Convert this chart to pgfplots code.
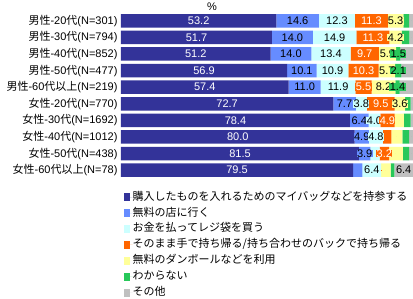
\documentclass[border=0pt]{standalone}
\usepackage{fontspec}
\setmainfont{Liberation Sans}
\newfontfamily\cjk{Noto Sans CJK JP}
\usepackage{pgfplots}
\pgfplotsset{compat=1.18}
\usepackage{pgfplotstable}

\definecolor{cA}{RGB}{51,51,153}
\definecolor{cB}{RGB}{102,140,255}
\definecolor{cC}{RGB}{204,255,255}
\definecolor{cD}{RGB}{255,102,0}
\definecolor{cE}{RGB}{255,255,153}
\definecolor{cF}{RGB}{40,200,90}
\definecolor{cG}{RGB}{192,192,192}

\pgfplotstableread{
row a b c d e f g la lb lc ld le lf lg
0 53.2 14.6 12.3 11.3 5.3 2.0 1.3 53.2 14.6 12.3 11.3 5.3 {} {}
1 51.7 14.0 14.9 11.3 4.2 2.7 1.2 51.7 14.0 14.9 11.3 4.2 {} {}
2 51.2 14.0 13.4 9.7 5.9 1.5 4.3 51.2 14.0 13.4 9.7 5.9 1.5 {}
3 56.9 10.1 10.9 10.3 5.7 2.1 4.0 56.9 10.1 10.9 10.3 5.7 2.1 {}
4 57.4 11.0 11.9 5.5 8.2 1.4 4.6 57.4 11.0 11.9 5.5 8.2 1.4 {}
5 72.7 7.7 3.8 9.5 3.6 1.9 0.8 72.7 7.7 3.8 9.5 3.6 {} {}
6 78.4 6.4 4.0 4.9 3.2 2.3 0.8 78.4 6.4 4.0 4.9 {} {} {}
7 80.0 4.9 4.8 2.9 3.8 2.3 1.3 80.0 4.9 4.8 {} {} {} {}
8 81.5 3.9 3.2 3.2 4.7 2.2 1.3 81.5 3.9 {} 3.2 {} {} {}
9 79.5 3.2 6.4 0.0 3.2 1.3 6.4 79.5 {} 6.4 {} {} {} 6.4
}\data

\pgfplotsset{
  geom/.style={
    at={(121pt,120.5pt)}, anchor=south west,
    scale only axis, width=292pt, height=166pt,
    xmin=0, xmax=100, ymin=-0.5, ymax=9.5, y dir=reverse,
  },
  seg/.style={fill=#1, draw=none},
  lbl/.style 2 args={
    scatter, only marks, mark=*, mark size=0pt, mark options={draw=none, fill=none},
    point meta=explicit symbolic,
    scatter/@pre marker code/.code={\node[inner xsep=0.4pt, inner ysep=0pt, fill=#2, text=#1, font=\fontsize{11}{11}\selectfont] {\pgfplotspointmeta};},
    scatter/@post marker code/.code={},
  },
}

\begin{document}
\begin{tikzpicture}
\path[use as bounding box] (0,0) rectangle (413pt,299pt);
\node[font=\fontsize{11}{11}\selectfont] at (212pt,292pt) {\%};
\begin{axis}[
  geom,
  xbar stacked, bar width=13.5pt,
  axis line style={draw=none},
  xtick=\empty,
  ytick={0,...,9},
  yticklabels={{\cjk 男性}-20{\cjk 代}(N=301),{\cjk 男性}-30{\cjk 代}(N=794),{\cjk 男性}-40{\cjk 代}(N=852),{\cjk 男性}-50{\cjk 代}(N=477),{\cjk 男性}-60{\cjk 代以上}(N=219),{\cjk 女性}-20{\cjk 代}(N=770),{\cjk 女性}-30{\cjk 代}(N=1692),{\cjk 女性}-40{\cjk 代}(N=1012),{\cjk 女性}-50{\cjk 代}(N=438),{\cjk 女性}-60{\cjk 代以上}(N=78)},
  yticklabel style={font=\fontsize{11}{11}\selectfont},
  major tick length=0pt,
  legend cell align=left,
  legend image code/.code={\path[#1] (0pt,-4pt) rectangle (5.5pt,4pt); \path (0pt,0pt) -- (8.5pt,0pt);},
  legend style={draw=none, fill=none, at={(0,0)}, anchor=north west, xshift=3pt, yshift=-13pt,
    font=\fontsize{11}{11}\selectfont\cjk, row sep=4.9pt, inner sep=0pt,
    nodes={inner sep=0pt, text height=8.5pt, text depth=2.5pt}},
]
\addplot[seg=cA] table[x=a,y=row]{\data};
\addlegendentry{購入したものを入れるためのマイバッグなどを持参する}
\addplot[seg=cB] table[x=b,y=row]{\data};
\addlegendentry{無料の店に行く}
\addplot[seg=cC] table[x=c,y=row]{\data};
\addlegendentry{お金を払ってレジ袋を買う}
\addplot[seg=cD] table[x=d,y=row]{\data};
\addlegendentry{そのまま手で持ち帰る/持ち合わせのバックで持ち帰る}
\addplot[seg=cE] table[x=e,y=row]{\data};
\addlegendentry{無料のダンボールなどを利用}
\addplot[seg=cF] table[x=f,y=row]{\data};
\addlegendentry{わからない}
\addplot[seg=cG] table[x=g,y=row]{\data};
\addlegendentry{その他}
\end{axis}
\begin{axis}[geom, hide axis]
\addplot[lbl={white}{cA}] table[x expr={\thisrow{a}/2}, y=row, meta=la]{\data};
\addplot[lbl={black}{cB}] table[x expr={\thisrow{a}+\thisrow{b}/2}, y=row, meta=lb]{\data};
\addplot[lbl={black}{cC}] table[x expr={\thisrow{a}+\thisrow{b}+\thisrow{c}/2}, y=row, meta=lc]{\data};
\addplot[lbl={white}{cD}] table[x expr={\thisrow{a}+\thisrow{b}+\thisrow{c}+\thisrow{d}/2}, y=row, meta=ld]{\data};
\addplot[lbl={black}{cE}] table[x expr={\thisrow{a}+\thisrow{b}+\thisrow{c}+\thisrow{d}+\thisrow{e}/2}, y=row, meta=le]{\data};
\addplot[lbl={black}{cF}] table[x expr={\thisrow{a}+\thisrow{b}+\thisrow{c}+\thisrow{d}+\thisrow{e}+\thisrow{f}/2}, y=row, meta=lf]{\data};
\addplot[lbl={black}{cG}] table[x expr={\thisrow{a}+\thisrow{b}+\thisrow{c}+\thisrow{d}+\thisrow{e}+\thisrow{f}+\thisrow{g}/2}, y=row, meta=lg]{\data};
\end{axis}
\end{tikzpicture}
\end{document}
